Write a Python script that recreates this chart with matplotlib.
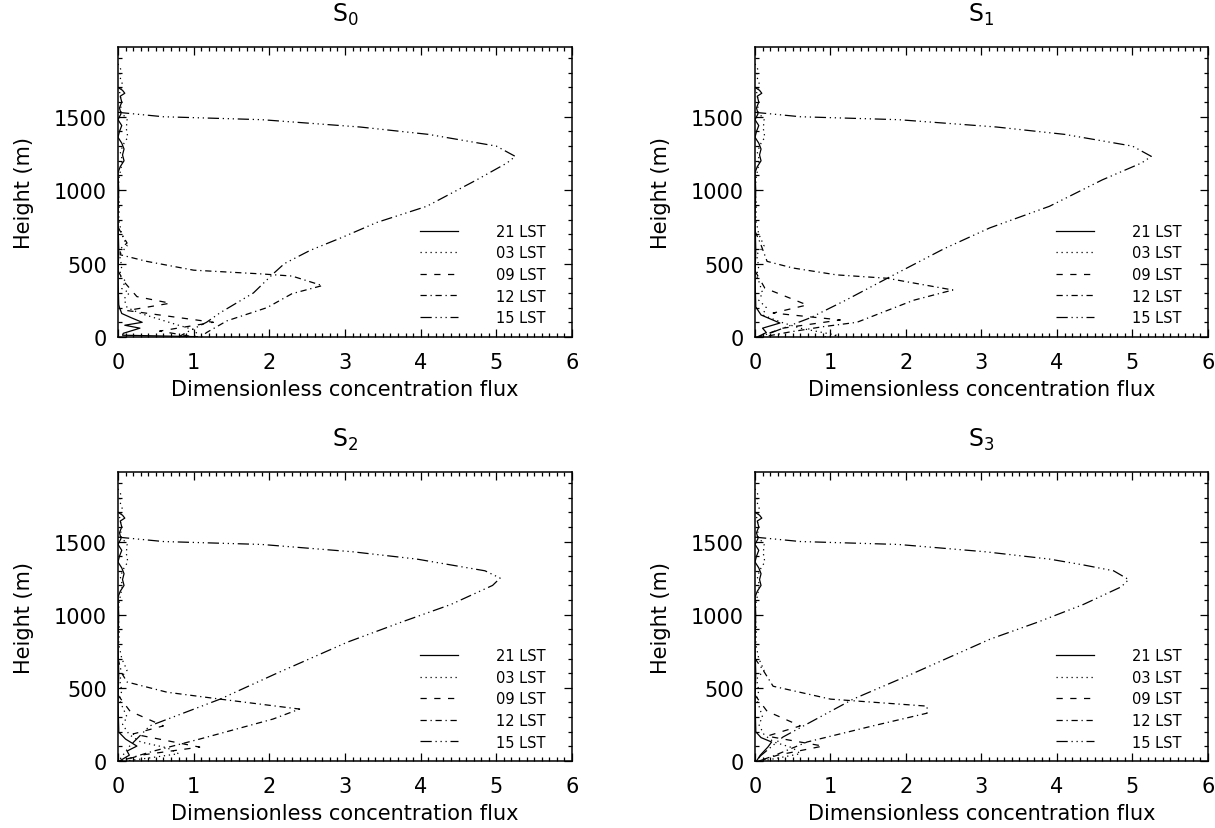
import matplotlib
matplotlib.use("Agg")
import matplotlib.pyplot as plt
from matplotlib.ticker import MultipleLocator

# Labels
panel_titles = ["S$_0$", "S$_1$", "S$_2$", "S$_3$"]
hours = ["21 LST", "03 LST", "09 LST", "12 LST", "15 LST"]

# Profiles as (height m, flux) pairs, top to bottom
# Upper parts of the night-time profiles look the same in all four panels
upper_21 = [(1700, 0.0), (1680, 0.06), (1660, 0.09), (1640, 0.03), (1600, 0.05),
            (1560, 0.02), (1520, 0.04), (1480, 0.0), (1440, 0.05), (1400, 0.02),
            (1360, 0.0), (1320, 0.05), (1280, 0.08), (1240, 0.06), (1200, 0.08),
            (1160, 0.03), (1120, 0.0), (1000, 0.01), (800, 0.0), (600, 0.01),
            (400, 0.0), (220, 0.01)]
upper_03 = [(1860, 0.0), (1820, 0.04), (1780, 0.02), (1720, 0.06), (1660, 0.02),
            (1600, 0.05), (1540, 0.03), (1480, 0.12), (1420, 0.11), (1360, 0.13),
            (1320, 0.08), (1260, 0.03), (1200, 0.06), (1100, 0.02), (1000, 0.0),
            (900, 0.02), (800, 0.01), (700, 0.05), (620, 0.12), (560, 0.02),
            (480, 0.05), (420, 0.02)]

# S0
s0_21 = [(200, 0.02), (160, 0.05), (130, 0.18), (100, 0.32), (80, 0.09),
         (60, 0.29), (25, 0.07), (12, 0.06), (2, 1.05)]
s0_03 = [(380, 0.1), (330, 0.05), (300, 0.15), (260, 0.08), (200, 0.12),
         (160, 0.3), (120, 0.55), (80, 0.8), (50, 1.0), (20, 1.05), (0, 1.0)]
s0_09 = [(450, 0.0), (370, 0.09), (275, 0.25), (230, 0.69), (180, 0.12),
         (100, 1.26), (40, 0.55), (10, 0.9), (0, 1.0)]
s0_12 = [(750, 0.0), (700, 0.05), (640, 0.12), (600, 0.03), (560, 0.03),
         (515, 0.38), (455, 1.0), (430, 1.88), (415, 2.3), (350, 2.7),
         (295, 2.3), (200, 1.97), (110, 1.44), (30, 1.17), (0, 1.1)]
s0_15 = [(1530, 0.0), (1500, 0.6), (1480, 1.9), (1430, 3.2), (1380, 4.1),
         (1340, 4.55), (1300, 5.0), (1230, 5.25), (1185, 5.14), (1070, 4.74),
         (890, 4.08), (780, 3.42), (680, 2.97), (590, 2.54), (500, 2.2),
         (430, 2.05), (300, 1.79), (165, 1.35), (100, 1.17), (30, 0.9), (0, 0.8)]

# S1
s1_21 = [(205, 0.01), (150, 0.08), (95, 0.33), (60, 0.1), (30, 0.15), (0, 0.03)]
s1_03 = [(380, 0.05), (300, 0.1), (250, 0.05), (200, 0.15), (150, 0.1),
         (100, 0.35), (60, 0.6), (30, 0.9), (10, 1.1), (0, 0.9)]
s1_09 = [(450, 0.0), (333, 0.13), (218, 0.69), (163, 0.24), (116, 1.13),
         (60, 0.37), (10, 0.1), (0, 0.05)]
s1_12 = [(720, 0.0), (640, 0.07), (515, 0.16), (470, 0.5), (423, 1.08),
         (400, 1.75), (320, 2.62), (250, 2.1), (100, 1.35), (70, 0.9),
         (34, 0.46), (5, 0.15)]
s1_15 = [(1530, 0.0), (1500, 0.6), (1480, 1.9), (1430, 3.2), (1380, 4.1),
         (1340, 4.55), (1300, 5.0), (1230, 5.25), (1185, 5.12), (1070, 4.6),
         (890, 3.9), (743, 3.11), (600, 2.5), (410, 1.79), (250, 1.2),
         (130, 0.73), (34, 0.24), (0, 0.05)]

# S2
s2_21 = [(198, 0.01), (150, 0.1), (102, 0.25), (68, 0.12), (40, 0.15), (0, 0.02)]
s2_03 = [(380, 0.05), (300, 0.12), (250, 0.06), (180, 0.15), (130, 0.3),
         (90, 0.65), (50, 0.8), (20, 0.4), (0, 0.1)]
s2_09 = [(450, 0.0), (340, 0.16), (240, 0.6), (185, 0.2), (95, 1.08),
         (40, 0.3), (0, 0.05)]
s2_12 = [(700, 0.0), (600, 0.05), (540, 0.12), (470, 0.65), (423, 1.35),
         (355, 2.4), (287, 2.05), (150, 1.08), (68, 0.47), (0, 0.03)]
s2_15 = [(1530, 0.0), (1500, 0.6), (1480, 1.9), (1430, 3.1), (1380, 3.95),
         (1340, 4.4), (1300, 4.85), (1250, 5.05), (1200, 4.95), (1070, 4.4),
         (950, 3.75), (812, 3.03), (600, 2.1), (423, 1.35), (240, 0.42),
         (100, 0.15), (14, 0.03)]

# S3
s3_21 = [(200, 0.01), (160, 0.08), (130, 0.22), (95, 0.17), (40, 0.07), (0, 0.02)]
s3_03 = [(380, 0.05), (300, 0.1), (250, 0.05), (180, 0.12), (130, 0.25),
         (90, 0.5), (50, 0.6), (20, 0.3), (0, 0.1)]
s3_09 = [(450, 0.0), (340, 0.16), (240, 0.6), (170, 0.16), (102, 0.9),
         (40, 0.3), (0, 0.05)]
s3_12 = [(700, 0.0), (627, 0.1), (511, 0.24), (423, 1.0), (375, 2.28),
         (327, 2.28), (240, 1.56), (130, 0.69), (34, 0.24), (0, 0.05)]
s3_15 = [(1530, 0.0), (1500, 0.6), (1480, 1.9), (1430, 3.05), (1380, 3.9),
         (1340, 4.35), (1300, 4.75), (1240, 4.95), (1190, 4.85), (1070, 4.35),
         (950, 3.75), (832, 3.11), (600, 2.1), (423, 1.3), (164, 0.37),
         (34, 0.07), (0, 0.02)]

panels = [
    [upper_21 + s0_21, upper_03 + s0_03, s0_09, s0_12, s0_15],
    [upper_21 + s1_21, upper_03 + s1_03, s1_09, s1_12, s1_15],
    [upper_21 + s2_21, upper_03 + s2_03, s2_09, s2_12, s2_15],
    [upper_21 + s3_21, upper_03 + s3_03, s3_09, s3_12, s3_15],
]

# IDL-like line styles: solid, dotted, dashed, dash-dot, dash-dot-dot-dot
styles = ["-", (0, (1, 3)), (0, (5, 6)), (0, (5, 3, 1, 3)),
          (0, (9, 3, 1, 3, 1, 3, 1, 3))]

plt.rcParams["font.family"] = "DejaVu Sans"
plt.rcParams["mathtext.default"] = "regular"

fig = plt.figure(figsize=(12.15, 8.29), dpi=100)

# axes boxes in figure fractions (left, bottom, width, height)
boxes = [(0.0971, 0.5923, 0.3737, 0.3498), (0.6214, 0.5923, 0.3728, 0.3498),
         (0.0971, 0.0808, 0.3737, 0.3486), (0.6214, 0.0808, 0.3728, 0.3486)]

for box, title, profiles in zip(boxes, panel_titles, panels):
    ax = fig.add_axes(box)
    for prof, style, label in zip(profiles, styles, hours):
        z = [p[0] for p in prof]
        x = [p[1] for p in prof]
        ax.plot(x, z, color="black", lw=0.9, linestyle=style, label=label)

    ax.set_xlim(0, 6)
    ax.set_ylim(0, 1975)
    ax.xaxis.set_major_locator(MultipleLocator(1))
    ax.xaxis.set_minor_locator(MultipleLocator(0.1))
    ax.yaxis.set_major_locator(MultipleLocator(500))
    ax.yaxis.set_minor_locator(MultipleLocator(100))
    ax.tick_params(which="both", direction="in", top=True, right=True,
                   labelsize=15, width=0.9)
    ax.tick_params(which="major", length=6, pad=11)
    ax.tick_params(axis="y", which="major", pad=8)
    ax.tick_params(which="minor", length=3)
    for sp in ax.spines.values():
        sp.set_linewidth(1.1)

    ax.set_title(title, fontsize=17, pad=19)
    ax.set_xlabel("Dimensionless concentration flux", fontsize=15, labelpad=5)
    ax.set_ylabel("Height (m)", fontsize=15, labelpad=14)

    ax.legend(loc="upper left", bbox_to_anchor=(0.665, 0.39), frameon=False,
              fontsize=10.5, handlelength=2.6, handletextpad=2.6,
              labelspacing=0.45, borderpad=0, borderaxespad=0)

fig.savefig("out.png", dpi=100)
